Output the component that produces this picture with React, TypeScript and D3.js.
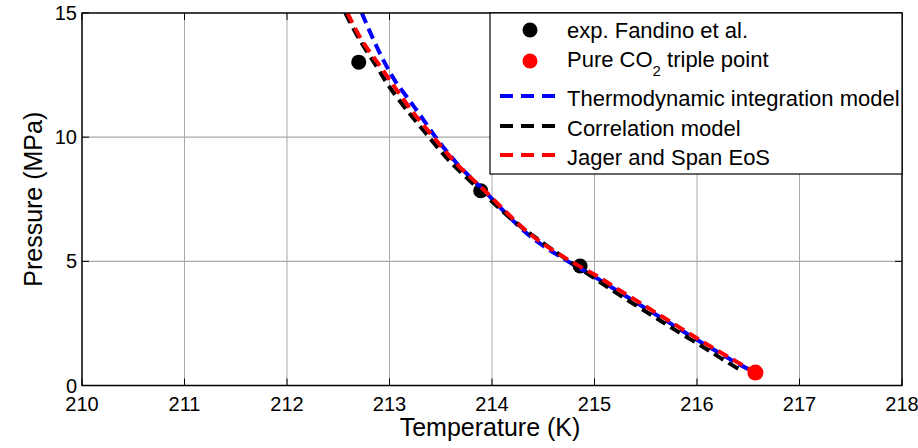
import React from "react";
import * as d3 from "d3";

const xTicks = [210, 211, 212, 213, 214, 215, 216, 217, 218];
const yTicks = [0, 5, 10, 15];

const expT = [212.7, 213.89, 214.86];
const expP = [13.02, 7.84, 4.81];

const tripleT = [216.57];
const tripleP = [0.52];

const thermoT = [212.73, 212.83, 212.94, 213.05, 213.2, 213.28, 213.45, 213.65, 213.92, 214.37, 214.73, 215.02, 215.22, 215.51, 215.74, 216.0, 216.19, 216.39, 216.5];
const thermoP = [15.0, 14.05, 13.1, 12.3, 11.45, 11.0, 10.0, 8.98, 7.85, 6.02, 5.03, 4.33, 3.82, 3.08, 2.5, 1.84, 1.38, 0.9, 0.66];

const corrT = [212.57, 212.7, 212.875, 213.0, 213.2, 213.35, 213.59, 213.89, 214.17, 214.47, 214.92, 215.25, 215.57, 215.77, 216.06, 216.26, 216.45];
const corrP = [15.0, 13.98, 12.84, 12.02, 10.93, 10.18, 9.02, 7.84, 6.77, 5.82, 4.54, 3.63, 2.8, 2.28, 1.55, 1.03, 0.56];

const jagerT = [212.59, 212.73, 212.91, 213.07, 213.25, 213.42, 213.65, 213.92, 214.37, 214.73, 215.02, 215.22, 215.51, 215.74, 216.0, 216.19, 216.39, 216.57];
const jagerP = [15.0, 13.9, 12.85, 11.9, 10.89, 10.05, 8.95, 7.88, 6.1, 5.1, 4.42, 3.9, 3.16, 2.57, 1.9, 1.43, 0.95, 0.52];

const legendLabels = ["exp. Fandino et al.", "Pure CO", "Thermodynamic integration model", "Correlation model", "Jager and Span EoS"];

const W = 918;
const H = 448;
const L = 82, R = 902, T = 13, B = 385.5;

export default function App() {
  const x = d3.scaleLinear().domain([210, 218]).range([L, R]);
  const y = d3.scaleLinear().domain([0, 15]).range([B, T]);
  const line = d3
    .line<[number, number]>()
    .x((d) => x(d[0]))
    .y((d) => y(d[1]))
    .curve(d3.curveCatmullRom);
  const mk = (ts: number[], ps: number[]) => line(ts.map((t, i) => [t, ps[i]] as [number, number])) || "";
  const font = "'Liberation Sans', Arial, sans-serif";
  const dash = "11,6";
  const lw = 4;
  const legX = 490, legY = 13, legW = 412, legH = 161;
  const textX = 567;
  const lineRows = [96, 126, 155];
  const textBase = [38, 67, 106, 136, 165];
  return (
    <svg width={W} height={H} style={{ position: "absolute", left: 0, top: 0, background: "#fff" }} fontFamily={font}>
      <defs>
        <clipPath id="plot">
          <rect x={L} y={T} width={R - L} height={B - T} />
        </clipPath>
      </defs>
      <rect x={0} y={0} width={W} height={H} fill="#fff" />
      {xTicks.slice(1, -1).map((t) => (
        <line key={"gx" + t} x1={x(t)} x2={x(t)} y1={T} y2={B} stroke="#a8a8a8" strokeWidth={1} />
      ))}
      {yTicks.slice(1, -1).map((t) => (
        <line key={"gy" + t} x1={L} x2={R} y1={y(t)} y2={y(t)} stroke="#a8a8a8" strokeWidth={1.2} />
      ))}
      {xTicks.map((t) => (
        <g key={"tx" + t}>
          <line x1={x(t)} x2={x(t)} y1={B} y2={B - 7} stroke="#000" strokeWidth={1} />
          <line x1={x(t)} x2={x(t)} y1={T} y2={T + 7} stroke="#000" strokeWidth={1} />
        </g>
      ))}
      {yTicks.map((t) => (
        <g key={"ty" + t}>
          <line x1={L} x2={L + 7} y1={y(t)} y2={y(t)} stroke="#000" strokeWidth={1} />
          <line x1={R} x2={R - 7} y1={y(t)} y2={y(t)} stroke="#000" strokeWidth={1} />
        </g>
      ))}
      <g clipPath="url(#plot)">
        {expT.map((t, i) => (
          <circle key={"e" + i} cx={x(t)} cy={y(expP[i])} r={7.5} fill="#000" />
        ))}
        <path d={mk(thermoT, thermoP)} fill="none" stroke="#0000ff" strokeWidth={lw} strokeDasharray={dash} />
        <path d={mk(corrT, corrP)} fill="none" stroke="#000" strokeWidth={lw} strokeDasharray={dash} />
        <path d={mk(jagerT, jagerP)} fill="none" stroke="#ff0000" strokeWidth={lw} strokeDasharray={dash} />
        {tripleT.map((t, i) => (
          <circle key={"t" + i} cx={x(t)} cy={y(tripleP[i])} r={8} fill="#ff0000" />
        ))}
      </g>
      <rect x={L} y={T} width={R - L} height={B - T} fill="none" stroke="#000" strokeWidth={1.5} />
      {xTicks.map((t) => (
        <text key={"lx" + t} x={x(t)} y={410.5} fontSize={20} textAnchor="middle" fill="#000">
          {t}
        </text>
      ))}
      {yTicks.map((t) => (
        <text key={"ly" + t} x={77} y={y(t)} dy="0.35em" fontSize={20} textAnchor="end" fill="#000">
          {t}
        </text>
      ))}
      <text x={(L + R) / 2 - 2} y={435.5} fontSize={25} textAnchor="middle" fill="#000">
        Temperature (K)
      </text>
      <text transform={`translate(42,${(T + B) / 2}) rotate(-90)`} fontSize={25} textAnchor="middle" fill="#000">
        Pressure (MPa)
      </text>
      <rect x={legX} y={legY} width={legW} height={legH} fill="#fff" stroke="#000" strokeWidth={1.2} />
      <circle cx={530} cy={30} r={7.5} fill="#000" />
      <circle cx={530} cy={61} r={7.5} fill="#ff0000" />
      {[
        ["#0000ff", lineRows[0]],
        ["#000", lineRows[1]],
        ["#ff0000", lineRows[2]],
      ].map(([c, yy], i) => (
        <line key={"ll" + i} x1={500} x2={555} y1={yy as number} y2={yy as number} stroke={c as string} strokeWidth={lw} strokeDasharray="13,8" />
      ))}
      <text x={textX} y={textBase[0]} fontSize={22} fill="#000">{legendLabels[0]}</text>
      <text x={textX} y={textBase[1]} fontSize={22} fill="#000">
        {legendLabels[1]}
        <tspan fontSize={15} dy={9}>2</tspan>
        <tspan dy={-9}> triple point</tspan>
      </text>
      <text x={textX} y={textBase[2]} fontSize={22} fill="#000">{legendLabels[2]}</text>
      <text x={textX} y={textBase[3]} fontSize={22} fill="#000">{legendLabels[3]}</text>
      <text x={textX} y={textBase[4]} fontSize={22} fill="#000">{legendLabels[4]}</text>
    </svg>
  );
}
